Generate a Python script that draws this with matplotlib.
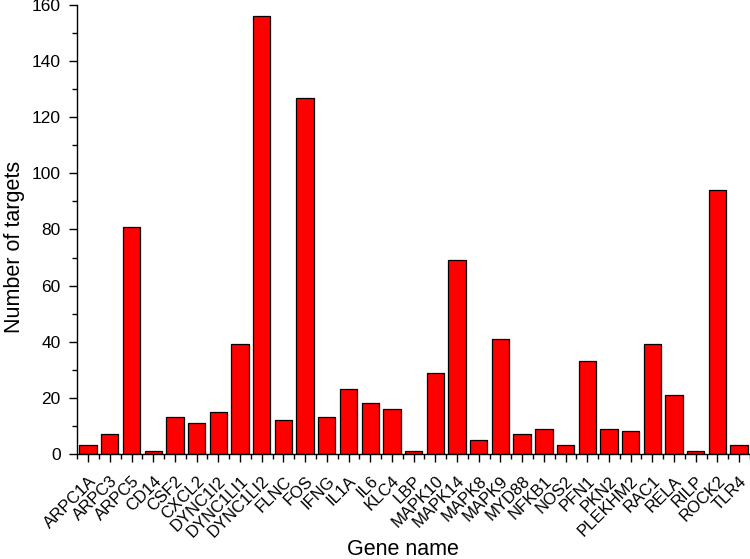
import matplotlib
matplotlib.use("Agg")
import matplotlib.pyplot as plt
from matplotlib.ticker import MultipleLocator, FixedLocator

genes = ["ARPC1A", "ARPC3", "ARPC5", "CD14", "CSF2", "CXCL2", "DYNC1I2", "DYNC1LI1",
         "DYNC1LI2", "FLNC", "FOS", "IFNG", "IL1A", "IL6", "KLC4", "LBP", "MAPK10",
         "MAPK14", "MAPK8", "MAPK9", "MYD88", "NFKB1", "NOS2", "PFN1", "PKN2",
         "PLEKHM2", "RAC1", "RELA", "RILP", "ROCK2", "TLR4"]
targets = [3, 7, 81, 1, 13, 11, 15, 39, 156, 12, 127, 13, 23, 18, 16, 1, 29,
           69, 5, 41, 7, 9, 3, 33, 9, 8, 39, 21, 1, 94, 3]

plt.rcParams["font.family"] = ["Liberation Sans", "DejaVu Sans"]

fig = plt.figure(figsize=(7.5, 5.59), dpi=100)
ax = fig.add_axes([0.103, 0.188, 0.897, 0.803])

x = list(range(len(genes)))
ax.bar(x, targets, width=0.8, color="#ff0000", edgecolor="black", linewidth=0.9)

ax.set_xlim(-0.5, len(genes) - 0.5)
ax.set_ylim(0, 160)

ax.spines["top"].set_visible(False)
ax.spines["right"].set_visible(False)
for s in ("left", "bottom"):
    ax.spines[s].set_linewidth(1.0)

# ticks: majors on bar centres, minors between bars, all pointing out
ax.yaxis.set_major_locator(MultipleLocator(20))
ax.yaxis.set_minor_locator(MultipleLocator(10))
ax.set_xticks(x)
ax.set_xticklabels(genes, rotation=45, ha="right", rotation_mode="anchor")
ax.xaxis.set_minor_locator(FixedLocator([i + 0.5 for i in range(-1, len(genes))]))

ax.tick_params(axis="both", which="major", direction="out", length=6, width=1.0)
ax.tick_params(axis="both", which="minor", direction="out", length=3.5, width=1.0)
ax.tick_params(axis="x", which="major", pad=8, labelsize=12)
ax.tick_params(axis="y", which="major", pad=6, labelsize=12.5)

ax.set_xlabel("Gene name", fontsize=15.5)
ax.xaxis.set_label_coords(0.484, -0.19)
ax.set_ylabel("Number of targets", fontsize=15.5)
ax.yaxis.set_label_coords(-0.078, 0.462)

fig.savefig("out.png", dpi=100)
